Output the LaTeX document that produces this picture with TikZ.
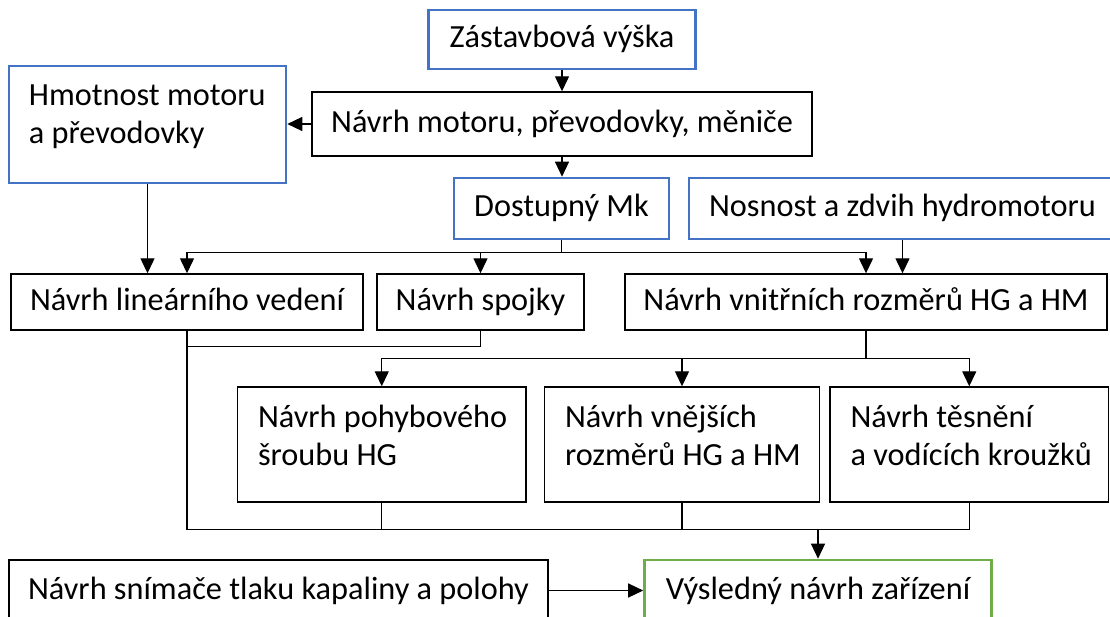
\documentclass[tikz,border=0pt]{standalone}
\usepackage{fontspec}
\setmainfont{Carlito}
\usetikzlibrary{arrows.meta,calc}

\definecolor{inputblue}{HTML}{4472C4}
\definecolor{resultgreen}{HTML}{70AD47}

\begin{document}
\begin{tikzpicture}[x=1pt,y=-1pt,
  font=\fontsize{32.3}{38}\selectfont,
  box/.style={draw=black,line width=1.4pt,inner sep=0pt,text height=23pt,text depth=6pt},
  inbox/.style={box,draw=inputblue,line width=2.6pt},
  outbox/.style={box,draw=resultgreen,line width=2.6pt},
  flow/.style={line width=1.3pt,-{Triangle[length=15pt,width=14pt]}},
  link/.style={line width=1.3pt},
  multi/.style={anchor=base west,inner sep=0pt}
]
\useasboundingbox (0,0) rectangle (1110,617);
\fill[white] (0,0) rectangle (1110,617);

% inputs and design steps
\node[inbox,minimum width=267pt,minimum height=59pt] (zast) at (562,39.5) {Zástavbová výška};
\node[box,minimum width=500pt,minimum height=64pt] (motor) at (562,124) {Návrh motoru, převodovky, měniče};
\node[inbox,minimum width=277pt,minimum height=117pt] (hmot) at (147.5,124.5) {};
\node[multi] (hmot-t) at ($(hmot.north west)+(21,41)$)
  {\begin{tabular}[t]{@{}l@{}}Hmotnost motoru\\a převodovky\end{tabular}};

\node[inbox,minimum width=215pt,minimum height=61pt] (dost) at (561.5,208.5) {Dostupný Mk};
\node[inbox,minimum width=427pt,minimum height=61pt] (nosn) at (902.5,208.5) {Nosnost a zdvih hydromotoru};

\node[box,minimum width=352pt,minimum height=56pt] (lin) at (187,302) {Návrh lineárního vedení};
\node[box,minimum width=207pt,minimum height=56pt] (spoj) at (480.5,302) {Návrh spojky};
\node[box,minimum width=482pt,minimum height=56pt] (vnit) at (866,302) {Návrh vnitřních rozměrů HG a HM};

\node[box,minimum width=288.5pt,minimum height=115pt] (pohy) at (381.75,444.5) {};
\node[multi] (pohy-t) at ($(pohy.north west)+(21,41)$)
  {\begin{tabular}[t]{@{}l@{}}Návrh pohybového\\šroubu HG\end{tabular}};
\node[box,minimum width=275pt,minimum height=115pt] (vnej) at (682,444.5) {};
\node[multi] (vnej-t) at ($(vnej.north west)+(21,41)$)
  {\begin{tabular}[t]{@{}l@{}}Návrh vnějších\\rozměrů HG a HM\end{tabular}};
\node[box,minimum width=278.5pt,minimum height=115pt] (tesn) at (969.25,444.5) {};
\node[multi] (tesn-t) at ($(tesn.north west)+(21,41)$)
  {\begin{tabular}[t]{@{}l@{}}Návrh těsnění\\a vodících kroužků\end{tabular}};

\node[box,minimum width=539pt,minimum height=61pt] (snim) at (278.5,590.5) {Návrh snímače tlaku kapaliny a polohy};
\node[outbox,minimum width=347pt,minimum height=61pt] (vysl) at (818,590.5) {Výsledný návrh zařízení};

% connectors
\draw[flow] (zast.south) -- (motor.north);
\draw[flow] (motor.west) -- (motor.west -| hmot.east);
\draw[flow] (motor.south) -- (motor.south |- dost.north);
\draw[flow] (hmot.south) -- (hmot.south |- lin.north);

\coordinate (busA) at ($(dost.south)+(0,12)$);
\draw[flow] (dost.south) -- (busA) -| (lin.north);
\draw[flow] (busA) -| (spoj.north);
\draw[flow] (busA) -| (vnit.north);
\draw[flow] (nosn.south) -- (nosn.south |- vnit.north);

\coordinate (busB) at ($(vnit.south)+(0,28)$);
\draw[flow] (vnit.south) -- (busB) -| (pohy.north);
\draw[flow] (busB) -| (vnej.north);
\draw[flow] (busB) -| (tesn.north);

\draw[link] (spoj.south) |- ($(lin.south)+(0,16)$);

\coordinate (busC) at ($(vysl.north)+(0,-29)$);
\draw[link] (lin.south) |- (tesn.south |- busC) -- (tesn.south);
\draw[link] (pohy.south) -- (pohy.south |- busC);
\draw[link] (vnej.south) -- (vnej.south |- busC);
\draw[flow] (busC) -- (vysl.north);
\draw[flow] (snim.east) -- (vysl.west);
\end{tikzpicture}
\end{document}
